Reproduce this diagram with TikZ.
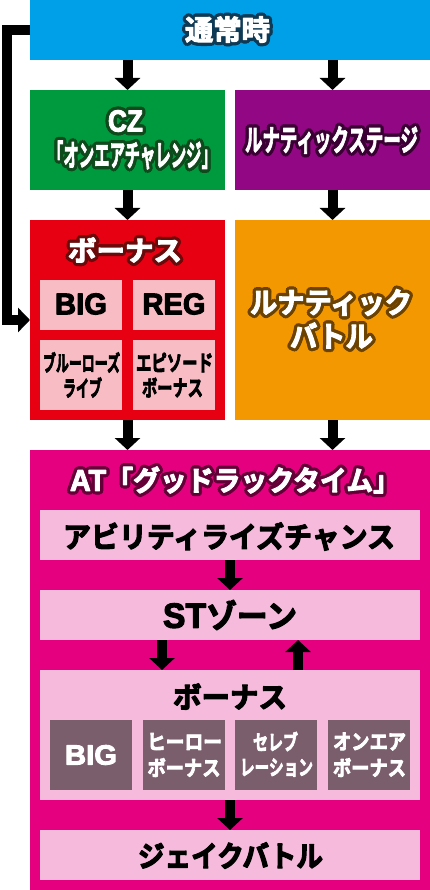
\documentclass[tikz,border=0pt]{standalone}
\usepackage{fontspec}
\usepackage{graphicx}
\usetikzlibrary{arrows.meta,calc}
\newfontfamily\jp{Noto Sans CJK JP Bold}
\newfontfamily\lat{Liberation Sans Bold}
\definecolor{cBlue}{HTML}{00A0E9}
\definecolor{cGreen}{HTML}{009A3E}
\definecolor{cPurple}{HTML}{920783}
\definecolor{cRed}{HTML}{E60012}
\definecolor{cOrange}{HTML}{F39800}
\definecolor{cMag}{HTML}{E4007F}
\definecolor{cPinkR}{HTML}{F8BCC5}
\definecolor{cPinkM}{HTML}{F6BBDC}
\definecolor{cMauve}{HTML}{7B5E6C}
\definecolor{oBlue}{HTML}{0E3A55}
\definecolor{oGreen}{HTML}{0E4A1C}
\definecolor{oPurple}{HTML}{3A0034}
\definecolor{oRed}{HTML}{6A0A0A}
\definecolor{oBrown}{HTML}{6B4200}
\definecolor{oMaroon}{HTML}{640038}
% fit a line of text to a width, keeping its height
\newcommand\fw[2]{\resizebox{#1pt}{\height}{#2}}
% heavier text: fill and stroke the glyphs in the text colour
\newcommand\hv[2]{\special{pdf:literal 2 Tr #1 w 1 j}#2\special{pdf:literal 0 Tr}}
\tikzset{
  box/.style={inner sep=0pt,outer sep=0pt,draw=none},
  txt/.style={inner sep=0pt,outer sep=0pt},
  arr/.style={line width=10pt,black,-{Triangle[width=25pt,length=12pt]}},
}
% outlined text: dark copies around, white text on top
\newcommand\otext[5]{%
  \foreach \ang in {0,30,...,330}{\node[txt,text=#3,font=#4] at ($(#2)+(\ang:3.2)$) {\hv{1.2}{#5}};}%
  \node[txt,text=white,font=#4] (#1) at (#2) {\hv{1}{#5}};}
\begin{document}
\begin{tikzpicture}[x=1pt,y=-1pt]
\useasboundingbox (0,0) rectangle (430,890);
% boxes
\node[box,fill=cBlue,minimum width=400pt,minimum height=60pt] (top) at (230,30) {};
\node[box,fill=cGreen,minimum width=195pt,minimum height=100pt] (cz) at (127.5,140) {};
\node[box,fill=cPurple,minimum width=195pt,minimum height=100pt] (ls) at (332.5,140) {};
\node[box,fill=cRed,minimum width=195pt,minimum height=200pt] (bon) at (127.5,320) {};
\node[box,fill=cOrange,minimum width=195pt,minimum height=200pt] (lb) at (332.5,320) {};
\node[box,fill=cPinkR,minimum width=82pt,minimum height=50pt] (big1) at (81,305) {};
\node[box,fill=cPinkR,minimum width=82pt,minimum height=50pt] (reg1) at (174,305) {};
\node[box,fill=cPinkR,minimum width=82pt,minimum height=70pt] (blr) at (81,375) {};
\node[box,fill=cPinkR,minimum width=82pt,minimum height=70pt] (epi) at (174,375) {};
\node[box,fill=cMag,minimum width=400pt,minimum height=440pt] (at) at (230,670) {};
\node[box,fill=cPinkM,minimum width=380pt,minimum height=50pt] (abi) at (230,535) {};
\node[box,fill=cPinkM,minimum width=380pt,minimum height=50pt] (st) at (230,615) {};
\node[box,fill=cPinkM,minimum width=380pt,minimum height=130pt] (bon2) at (230,735) {};
\node[box,fill=cMauve,minimum width=82pt,minimum height=70pt] (big2) at (91,755) {};
\node[box,fill=cMauve,minimum width=82pt,minimum height=70pt] (hero) at (184,755) {};
\node[box,fill=cMauve,minimum width=82pt,minimum height=70pt] (cel) at (276,755) {};
\node[box,fill=cMauve,minimum width=82pt,minimum height=70pt] (onb) at (369,755) {};
\node[box,fill=cPinkM,minimum width=380pt,minimum height=50pt] (jake) at (230,855) {};
% arrows
\draw[arr] (cz.north |- top.south) -- (cz.north);
\draw[arr] (ls.north |- top.south) -- (ls.north);
\draw[arr] (cz.south) -- (bon.north);
\draw[arr] (ls.south) -- (lb.north);
\draw[arr] (bon.south) -- (bon.south |- at.north);
\draw[arr] (lb.south) -- (lb.south |- at.north);
\draw[arr] (abi.south) -- (st.north);
\draw[arr] ([xshift=-68pt]st.south) -- ([xshift=-68pt]bon2.north);
\draw[arr] ([xshift=68pt]bon2.north) -- ([xshift=68pt]st.south);
\draw[arr] (bon2.south) -- (jake.north);
\draw[arr,line join=miter,-{Triangle[width=24pt,length=12pt]}] (top.west) -- ([xshift=-23pt]top.west) |- (bon.west);
% outlined titles
\otext{tTop}{227.5,29.5}{oBlue}{\jp\fontsize{28}{30}\selectfont}{\fw{85}{通常時}}
\otext{tCZa}{125.5,121}{oGreen}{\lat\fontsize{30.5}{32}\selectfont}{\fw{35}{CZ}}
\otext{tCZb}{132.5,155}{oGreen}{\jp\fontsize{30}{32}\selectfont}{\fw{169}{「オンエアチャレンジ」}}
\otext{tLS}{331.5,140}{oPurple}{\jp\fontsize{30}{32}\selectfont}{\fw{173}{ルナティックステージ}}
\otext{tBon}{125,250}{oRed}{\jp\fontsize{28}{30}\selectfont}{\fw{114}{ボーナス}}
\otext{tLBa}{331,302.5}{oBrown}{\jp\fontsize{29}{30}\selectfont}{\fw{162}{ルナティック}}
\otext{tLBb}{331.5,335.5}{oBrown}{\jp\fontsize{29}{30}\selectfont}{\fw{83}{バトル}}
\otext{tAT}{235,480}{oMaroon}{\jp\fontsize{28}{30}\selectfont}{\fw{330}{{\lat\fontsize{30}{30}\selectfont AT}「グッドラックタイム」}}
% black texts
\node[txt,font=\lat\fontsize{30}{32}\selectfont] (tBig1) at (81,304) {\hv{1}{\fw{52}{BIG}}};
\node[txt,font=\lat\fontsize{30}{32}\selectfont] (tReg1) at (174,304) {\hv{1}{\fw{63}{REG}}};
\node[txt,font=\jp\fontsize{22}{24}\selectfont] (tBlra) at (81.5,362.5) {\hv{0.9}{\fw{77}{ブルーローズ}}};
\node[txt,font=\jp\fontsize{22}{24}\selectfont] (tBlrb) at (82.5,387.5) {\hv{0.9}{\fw{39}{ライブ}}};
\node[txt,font=\jp\fontsize{22}{24}\selectfont] (tEpia) at (174.5,362.5) {\hv{0.9}{\fw{77}{エピソード}}};
\node[txt,font=\jp\fontsize{22}{24}\selectfont] (tEpib) at (172.5,387.5) {\hv{0.9}{\fw{61}{ボーナス}}};
\node[txt,font=\jp\fontsize{29}{30}\selectfont] (tAbi) at (229,536.5) {\hv{1.2}{\fw{332}{アビリティライズチャンス}}};
\node[txt,font=\jp\fontsize{32}{34}\selectfont] (tSt) at (230,615) {\hv{1.2}{\fw{134}{{\lat\fontsize{35}{36}\selectfont ST}ゾーン}}};
\node[txt,font=\jp\fontsize{29}{30}\selectfont] (tBon2) at (230,696.5) {\hv{1.2}{\fw{114}{ボーナス}}};
\node[txt,font=\jp\fontsize{29}{30}\selectfont] (tJake) at (230.5,855.5) {\hv{1.2}{\fw{185}{ジェイクバトル}}};
% white texts in mauve boxes
\node[txt,text=white,font=\lat\fontsize{28}{30}\selectfont] (tBig2) at (91,755) {\hv{0.9}{\fw{52}{BIG}}};
\node[txt,text=white,font=\jp\fontsize{21}{22}\selectfont] (tHeroa) at (184.5,741.5) {\hv{0.8}{\fw{75}{ヒーロー}}};
\node[txt,text=white,font=\jp\fontsize{21}{22}\selectfont] (tHerob) at (184,767.5) {\hv{0.8}{\fw{73}{ボーナス}}};
\node[txt,text=white,font=\jp\fontsize{21}{22}\selectfont] (tCela) at (275.5,741.5) {\hv{0.8}{\fw{45}{セレブ}}};
\node[txt,text=white,font=\jp\fontsize{21}{22}\selectfont] (tCelb) at (276.5,767.5) {\hv{0.8}{\fw{73}{レーション}}};
\node[txt,text=white,font=\jp\fontsize{21}{22}\selectfont] (tOna) at (369.5,741.5) {\hv{0.8}{\fw{73}{オンエア}}};
\node[txt,text=white,font=\jp\fontsize{21}{22}\selectfont] (tOnb) at (369.5,767.5) {\hv{0.8}{\fw{73}{ボーナス}}};
\end{tikzpicture}
\end{document}
